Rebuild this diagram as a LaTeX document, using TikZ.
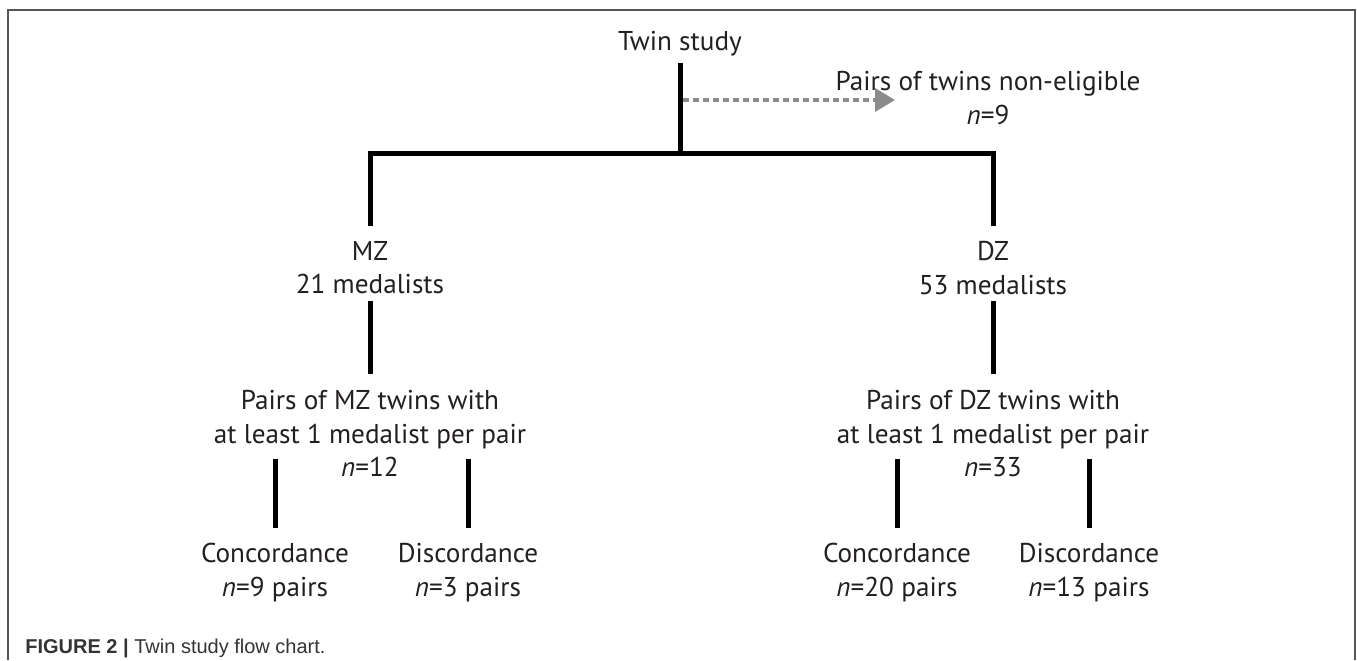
\documentclass[tikz,border=0pt]{standalone}
\usepackage{fontspec}
\setmainfont{PT Sans}
\newfontfamily\capfont{Liberation Sans}
\usetikzlibrary{arrows.meta}
\definecolor{Ink}{HTML}{231F20}
\definecolor{Skip}{HTML}{8C8C8C}
\definecolor{Frame}{HTML}{555555}
\definecolor{Cap}{HTML}{333333}

\begin{document}
\begin{tikzpicture}[x=0.5pt,y=-0.5pt,
  lbl/.style={font=\fontsize{13.6}{16.75}\selectfont,text=Ink,align=center,inner sep=0pt},
  branch/.style={line width=2.5pt,line join=miter},
  skip/.style={Skip,line width=1.9pt,dash pattern=on 3pt off 2pt,-{Triangle[length=10pt,width=11.5pt]}}]
  \useasboundingbox (0,0) rectangle (1357,660);
  \draw[Frame,line width=0.8pt] (8,660) |- (1355,10) -- (1355,660);
  \node[lbl,anchor=base] (twin) at (680,50) {Twin study};
  \node[lbl,anchor=north] (noel) at (988,71) {Pairs of twins non-eligible\\\textit{n}=9};
  \coordinate (fork) at (680,153);
  \coordinate (skipend) at (895,100);
  \node[lbl,anchor=north] (mz) at (370,241) {MZ\\21 medalists};
  \node[lbl,anchor=north] (dz) at (993,241) {DZ\\53 medalists};
  \node[lbl,anchor=north] (mzp) at (370,390) {Pairs of MZ twins with\\at least 1 medalist per pair\\\textit{n}=12};
  \node[lbl,anchor=north] (dzp) at (993,390) {Pairs of DZ twins with\\at least 1 medalist per pair\\\textit{n}=33};
  \draw[branch,shorten <=3.5pt] (twin.south) -- (fork);
  \draw[branch,shorten <=7.5pt,shorten >=7.5pt] (mz.north) |- (fork) -| (dz.north);
  \draw[skip,shorten <=1.5pt] (skipend -| fork) -- (skipend);
  \draw[branch,shorten <=3pt,shorten >=8pt] (mz.south) -- (mzp.north);
  \draw[branch,shorten <=3pt,shorten >=8pt] (dz.south) -- (dzp.north);
  \foreach \nm/\up/\x/\lab in {mzc/mzp/275/{Concordance\\\textit{n}=9 pairs},
    mzd/mzp/468/{Discordance\\\textit{n}=3 pairs},
    dzc/dzp/897/{Concordance\\\textit{n}=20 pairs},
    dzd/dzp/1089/{Discordance\\\textit{n}=13 pairs}} {
    \node[lbl,anchor=north] (\nm) at (\x,543) {\lab};
    \draw[branch,shorten <=-9pt,shorten >=7.5pt] (\nm.north |- \up.south) -- (\nm.north);
  }
  \node[anchor=base west,inner sep=0pt,font=\capfont\fontsize{10}{12}\selectfont,text=Cap] (cap) at (25,653) {\textbf{FIGURE 2 |} Twin study flow chart.};
\end{tikzpicture}
\end{document}
